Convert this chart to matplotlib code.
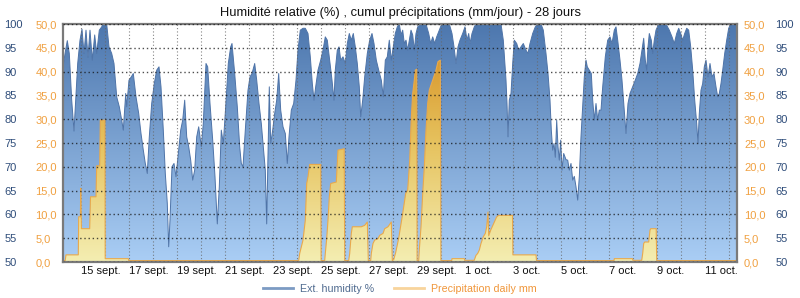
import numpy as np
import matplotlib.pyplot as plt
from matplotlib.colors import LinearSegmentedColormap
from matplotlib.lines import Line2D

plt.rcParams['font.family'] = ['Liberation Sans', 'DejaVu Sans']

# hours since 15 sept 00:00, relative humidity %
humidity = [
    (-17.7, 91), (-15.5, 94), (-13.4, 96.5), (-11.4, 93.8), (-9.0, 84), (-6.7, 77.5), (-5.0, 84),
    (-3.0, 91.7), (-0.7, 96.6), (1.3, 98.9), (3.3, 93.8), (5.3, 98.7), (7.3, 93), (9.3, 98.7),
    (11.6, 92.4), (14.0, 97.7), (16.0, 93.8), (18.6, 98.7), (21.0, 99.4), (22.6, 100), (26.0, 100),
    (28.3, 95.2), (31.0, 93.8), (33.3, 91.7), (36.0, 84.7), (38.6, 82.6), (41.0, 79.8), (42.6, 77.7),
    (45.0, 85.4), (46.0, 82.6), (48.3, 88.2), (50.6, 88.9), (52.6, 89.6), (55.3, 84.7), (58.0, 81.2),
    (60.3, 77), (62.6, 73.5), (64.6, 70.7), (66.6, 68.6), (68.6, 76.3), (71.0, 83.3), (73.6, 87.5),
    (76.0, 90.3), (78.3, 91), (80.3, 86.8), (82.6, 77.7), (84.6, 68.6), (86.6, 62.3), (88.0, 53.2),
    (89.3, 58.8), (91.3, 70), (93.3, 70.7), (95.3, 67.9), (97.6, 72.8), (100.0, 77.7), (102.0, 79.8),
    (104.0, 84), (106.0, 76.3), (108.0, 74.2), (110.0, 71.4), (112.0, 67.2), (114.0, 69.3),
    (116.0, 76.3), (118.0, 78.4), (120.6, 74.2), (122.6, 79.1), (125.3, 91.7), (127.0, 91),
    (129.3, 83.3), (132.0, 75.6), (134.3, 67.9), (136.6, 58), (138.6, 65.8), (140.6, 77.7),
    (142.6, 74.9), (145.0, 82.6), (147.6, 91.7), (150.0, 95.2), (151.3, 95.9), (154.0, 89.6),
    (156.6, 82.6), (159.0, 74.2), (160.6, 70.7), (162.3, 70), (164.6, 77.7), (167.3, 86.1),
    (169.3, 88.9), (171.3, 89.6), (174.0, 91.7), (176.0, 88.2), (178.3, 83.3), (180.6, 79.1),
    (182.6, 74.2), (184.6, 69.3), (186.0, 58), (187.3, 72.8), (188.6, 86.8), (190.0, 74.9),
    (192.0, 77.7), (194.0, 81.2), (196.0, 84), (198.0, 89.6), (200.0, 81.9), (202.3, 78.4),
    (204.6, 77), (206.6, 70.7), (208.3, 76.3), (210.6, 81.9), (213.0, 83.3), (215.3, 88.2),
    (217.3, 94.5), (219.6, 98.7), (222.3, 99.1), (224.6, 99.1), (227.3, 98), (229.6, 93.1),
    (231.6, 87.5), (233.3, 84), (235.0, 86.8), (237.3, 90.3), (240.0, 92.4), (242.3, 94.5),
    (244.6, 97.3), (246.6, 96.6), (249.0, 92.4), (251.3, 88.2), (253.3, 84), (254.6, 90.3),
    (256.6, 94.5), (258.3, 95.2), (260.0, 92.4), (262.3, 93.1), (264.6, 91.7), (266.6, 95.9),
    (268.6, 98), (270.6, 96.6), (272.6, 98), (274.6, 95.2), (276.6, 91.7), (278.6, 86.8),
    (280.0, 80.5), (282.0, 84), (284.0, 88.9), (286.6, 93.8), (289.0, 96.6), (291.3, 98),
    (293.3, 95.9), (295.6, 92.4), (298.0, 90.3), (300.6, 88.2), (302.6, 84.7), (304.6, 92.4),
    (306.6, 93.1), (308.6, 96.6), (310.6, 92.4), (312.6, 95.2), (314.6, 98), (316.6, 99.4),
    (318.6, 100), (320.3, 97.7), (322.0, 98.7), (323.6, 95.9), (325.3, 96.6), (327.0, 94.5),
    (328.6, 96.6), (330.3, 98.7), (332.0, 97.7), (333.6, 94.5), (335.3, 98), (337.0, 99.4),
    (340.3, 100), (345.3, 100), (348.0, 98), (350.0, 95.9), (352.0, 97.3), (354.0, 95.9),
    (356.0, 97.3), (358.6, 98.7), (361.0, 100), (368.6, 100), (371.3, 98), (373.3, 95.2),
    (375.3, 91.7), (377.3, 95.2), (379.3, 96.6), (382.0, 98), (384.3, 99.4), (386.3, 96.6),
    (388.0, 98), (389.3, 95.9), (391.3, 98), (393.6, 99.4), (395.3, 100), (420.3, 100),
    (422.6, 96.6), (424.0, 92.4), (425.3, 88.2), (426.3, 83.3), (427.3, 76.3), (428.6, 84),
    (430.3, 85.4), (432.0, 91.7), (433.6, 96.6), (436.0, 95.9), (438.0, 94.5), (440.3, 95.2),
    (442.6, 95.9), (445.3, 94.5), (447.3, 93.8), (449.3, 95.9), (452.0, 98), (454.6, 99.4),
    (457.0, 100), (460.3, 100), (462.6, 98.7), (465.3, 93.8), (467.3, 89.6), (469.3, 84),
    (470.6, 77.7), (472.0, 73.5), (473.3, 74.9), (474.6, 72), (476.0, 79.8), (477.3, 74.2),
    (478.6, 71.4), (480.0, 75.6), (481.3, 69.3), (483.0, 72.8), (485.3, 71.5), (487.0, 71.4),
    (488.6, 69.3), (490.3, 70.7), (492.0, 67.2), (493.6, 68), (495.3, 65.8), (497.0, 63),
    (498.6, 67.9), (500.3, 76.3), (502.0, 82.6), (503.6, 88.9), (505.3, 92.4), (506.6, 91),
    (508.6, 90.3), (510.6, 89.6), (512.0, 84), (513.6, 79.8), (515.3, 83.3), (517.0, 79.8),
    (518.6, 81.9), (520.3, 81.9), (522.0, 86.8), (524.6, 93.1), (527.0, 96.6), (529.3, 97.3),
    (531.3, 95.9), (533.6, 98.7), (535.3, 99.4), (537.0, 96.6), (539.3, 92.4), (541.3, 88.2),
    (543.3, 82.6), (545.3, 77), (547.3, 83.3), (549.3, 85.4), (552.0, 86.8), (554.6, 88.2),
    (557.0, 89.6), (559.3, 91.7), (561.3, 94.5), (563.0, 97), (564.6, 92.4), (566.0, 90.3),
    (567.3, 95.2), (568.6, 98), (570.6, 96.6), (572.0, 93.8), (573.6, 96.6), (575.3, 98.7),
    (578.0, 100), (585.3, 100), (588.6, 98.7), (591.3, 97.3), (593.6, 95.9), (596.0, 98),
    (598.0, 99.1), (600.0, 98), (602.0, 96.6), (604.0, 98), (606.0, 99.1), (608.0, 98.7),
    (610.0, 95.2), (612.0, 90.3), (614.0, 84), (616.0, 79.1), (617.3, 74.9), (618.6, 81.2),
    (620.3, 86.1), (622.0, 87.5), (623.6, 91), (625.3, 92.4), (627.3, 88.9), (629.3, 91.7),
    (631.3, 88.9), (633.3, 89.6), (635.3, 86.8), (637.0, 84.7), (638.6, 85.4), (640.3, 87.5),
    (642.0, 90.3), (644.0, 93.8), (646.0, 96.6), (648.0, 99.1), (650.0, 100), (656.3, 100),
]

# hours since 15 sept 00:00, daily rain mm
rain = [
    (-17.7, 0.3), (-15.5, 0.3), (-14.7, 1.5), (-2.4, 1.5), (-2.0, 9.5), (-0.3, 9.5), (0.0, 15.5),
    (0.7, 7.0), (9.0, 7.0), (9.8, 13.7), (15.3, 13.7), (16.0, 20.2), (19.0, 20.2), (19.6, 29.8),
    (24.2, 29.8), (24.5, 0.7), (47.6, 0.7), (48.0, 0.3), (218.0, 0.3), (219.0, 1.8), (222.3, 4.6),
    (224.6, 8.8), (226.0, 16.5), (227.3, 17.9), (229.0, 20.5), (240.0, 20.5), (240.4, 0.3),
    (244.0, 0.3), (244.6, 1.8), (246.0, 4.9), (247.3, 8.8), (248.6, 13.7), (250.0, 16.5),
    (255.6, 16.8), (257.3, 23.5), (263.5, 23.8), (264.0, 0.3), (268.0, 0.3), (269.0, 1.8),
    (270.6, 6.0), (271.6, 7.4), (280.6, 7.4), (284.0, 7.7), (286.6, 8.4), (287.6, 0.3),
    (290.0, 0.3), (290.6, 1.8), (292.3, 3.9), (294.0, 4.6), (297.3, 4.9), (299.0, 5.6),
    (302.3, 6.0), (304.0, 7.0), (307.3, 7.4), (310.6, 8.4), (311.6, 0.3), (313.0, 0.5),
    (315.0, 2.0), (318.0, 5.0), (322.0, 10.2), (325.0, 14.4), (327.0, 15.1), (329.0, 21.4),
    (330.5, 29.8), (332.0, 35.4), (333.6, 38.2), (334.6, 40.3), (336.0, 40.5), (336.4, 0.3),
    (338.0, 0.3), (338.6, 2.5), (340.3, 7.4), (342.0, 14.4), (343.6, 20.0), (345.3, 27.7),
    (347.0, 33.3), (348.6, 36.1), (352.0, 38.2), (355.3, 40.3), (357.3, 42.1), (359.6, 42.4),
    (360.2, 0.3), (371.0, 0.3), (371.3, 0.7), (383.6, 0.7), (384.0, 0.35), (393.5, 0.35),
    (395.3, 1.4), (397.0, 1.8), (398.6, 2.5), (400.3, 3.9), (402.6, 5.3), (404.6, 6.0),
    (406.0, 7.4), (407.3, 10.5), (408.0, 5.5), (410.0, 6.7), (413.0, 8.1), (416.0, 9.5),
    (418.0, 9.8), (431.8, 9.8), (432.2, 1.5), (455.3, 1.5), (455.8, 0.3), (533.3, 0.3),
    (533.6, 0.7), (551.8, 0.7), (552.2, 0.35), (561.0, 0.35), (562.0, 1.8), (563.0, 3.9),
    (564.0, 4.2), (568.0, 4.2), (569.3, 6.7), (570.0, 7.0), (575.5, 7.0), (576.0, 0.3),
    (656.3, 0.3),
]

tick_hours = [0, 48, 96, 144, 192, 240, 288, 336, 384, 432, 480, 528, 576, 624]
tick_labels = ['15 sept.', '17 sept.', '19 sept.', '21 sept.', '23 sept.', '25 sept.',
               '27 sept.', '29 sept.', '1 oct.', '3 oct.', '5 oct.', '7 oct.', '9 oct.', '11 oct.']
hum_ticks = [50, 55, 60, 65, 70, 75, 80, 85, 90, 95, 100]
rain_ticks = [0, 5, 10, 15, 20, 25, 30, 35, 40, 45, 50]

title = 'Humidité relative (%) , cumul précipitations (mm/jour) - 28 jours'
x0, x1 = -17.7, 656.3

hum_color = '#2f4d7a'
rain_color = '#f0a040'

h_x, h_y = zip(*humidity)
r_x, r_y = zip(*rain)

fig = plt.figure(figsize=(8, 2.98), dpi=100)
ax = fig.add_axes([63 / 800, 36 / 298, 674 / 800, 238 / 298])
ax2 = ax.twinx()

grad = np.linspace(0, 1, 256).reshape(-1, 1)

# humidité : aire avec dégradé
poly = ax.fill_between(h_x, h_y, 50, facecolor='none', edgecolor='none', lw=0)
cm_h = LinearSegmentedColormap.from_list('hum', ['#aacef5', '#4d77ae'])
im = ax.imshow(grad, extent=[x0, x1, 50, 100], origin='lower', aspect='auto', cmap=cm_h)
im.set_clip_path(poly.get_paths()[0], transform=ax.transData)
ax.plot(h_x, h_y, color='#4f74a8', lw=0.7)

# pluie : aire avec dégradé
poly2 = ax2.fill_between(r_x, r_y, 0, facecolor='none', edgecolor='none', lw=0)
cm_r = LinearSegmentedColormap.from_list('rain', ['#f4eeb2', '#e6c25e', '#d48a1c'])
im2 = ax2.imshow(grad, extent=[x0, x1, 0, 50], origin='lower', aspect='auto', cmap=cm_r)
im2.set_clip_path(poly2.get_paths()[0], transform=ax2.transData)
ax2.plot(r_x, r_y, color='#e9a94c', lw=0.8)

ax.set_xlim(x0, x1)
ax.set_ylim(50, 100)
ax2.set_ylim(0, 50)

# axe x
ax.set_xticks(tick_hours, tick_labels, ha='left')
ax.set_xticks(np.arange(0, 649, 24), minor=True)
ax.tick_params(axis='x', which='both', length=0, pad=3, labelsize=8, colors='#111111')
ax.grid(axis='x', which='both', color='#666666', lw=0.8, ls=(0, (1, 2)), alpha=0.8)
ax.set_axisbelow(False)

# humidité gauche / droite
ax.set_yticks(hum_ticks, [str(v) for v in hum_ticks], ha='left')
ax.tick_params(axis='y', length=0, pad=42.1, labelsize=8, colors=hum_color,
               labelleft=True, labelright=False)
hr = ax.secondary_yaxis('right')
hr.set_yticks(hum_ticks, [str(v) for v in hum_ticks])
hr.tick_params(axis='y', length=0, pad=27.7, labelsize=8, colors=hum_color)

# pluie gauche / droite
rain_labels = [f'{v:.1f}'.replace('.', ',') for v in rain_ticks]
ax2.set_yticks(rain_ticks, rain_labels, ha='left')
ax2.tick_params(axis='y', length=0, pad=19.8, labelsize=8, colors=rain_color,
                labelleft=True, labelright=False)
rr = ax2.secondary_yaxis('right')
rr.set_yticks(rain_ticks, rain_labels)
rr.tick_params(axis='y', length=0, pad=5.0, labelsize=8, colors=rain_color)
ax2.grid(axis='y', color='#111111', lw=1.0, ls=(0, (1, 2)), alpha=0.75)
ax2.set_axisbelow(False)

for s in ax.spines.values():
    s.set_visible(False)
for a in (hr, rr):
    for s in a.spines.values():
        s.set_visible(False)
for s in ax2.spines.values():
    s.set_color('#7a7a7a')
    s.set_linewidth(1.6)

fig.text(0.5, 1 - 13 / 298, title, ha='center', va='center', fontsize=9.3, color='#111111')

handles = [Line2D([], [], color='#7c9bc3', lw=2),
           Line2D([], [], color='#f8d49c', lw=2)]
fig.legend(handles, ['Ext. humidity %', 'Precipitation daily mm'], loc='center',
           bbox_to_anchor=(0.5, 9.5 / 298), ncol=2, frameon=False, fontsize=7.7,
           handlelength=2.8, handletextpad=0.65, columnspacing=1.9,
           labelcolor=['#4f6a8f', '#f0963a'])

fig.savefig('out.png', dpi=100)
